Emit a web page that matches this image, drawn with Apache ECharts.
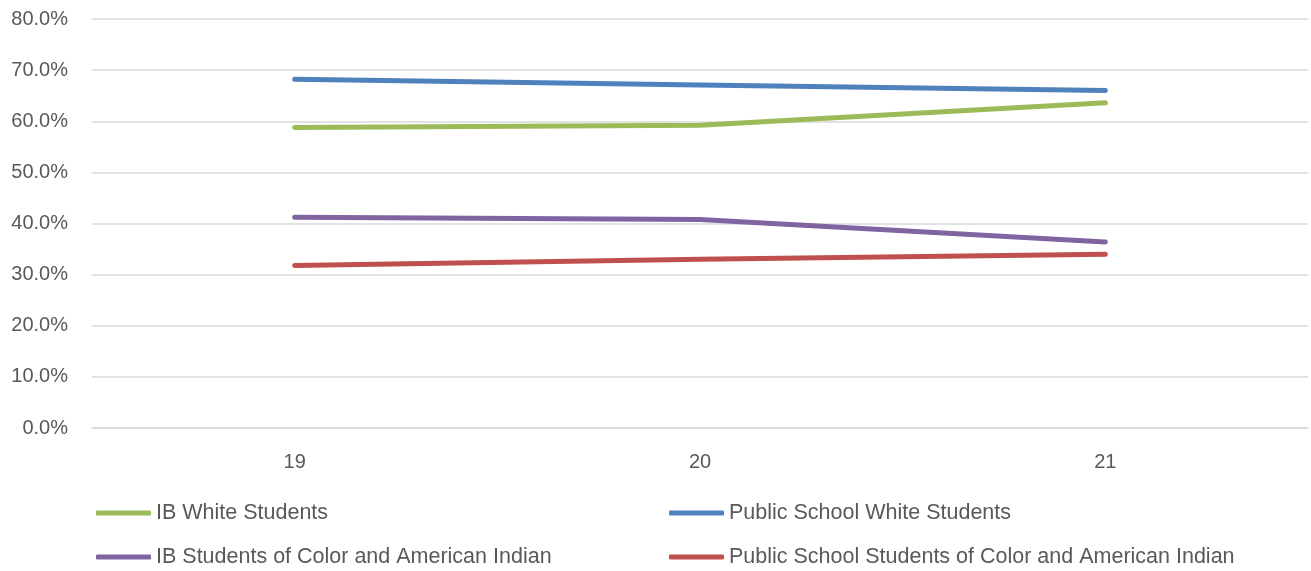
<!DOCTYPE html>
<html>
<head>
<meta charset="utf-8">
<script src="https://cdn.jsdelivr.net/npm/echarts@6/dist/echarts.min.js"></script>
<style>
html,body{margin:0;padding:0;background:#fff;}
#chart{width:1311px;height:571px;}
</style>
</head>
<body>
<div id="chart"></div>
<script>
const categories = ['19', '20', '21'];
const ibWhite = [58.8, 59.2, 63.6];
const publicWhite = [68.2, 67.1, 66.0];
const ibColor = [41.2, 40.8, 36.4];
const publicColor = [31.8, 33.0, 34.0];
const seriesNames = ['IB White Students', 'Public School White Students', 'IB Students of Color and American Indian', 'Public School Students of Color and American Indian'];
const colors = ['#9BBB59', '#4F81BD', '#8064A2', '#C0504D'];

const font = 'Liberation Sans';
const chart = echarts.init(document.getElementById('chart'));
const mkLegend = (name, left, top) => ({
  data: [name], left: left, top: top, itemWidth: 55, itemHeight: 5, itemGap: 0, padding: 0,
  icon: 'roundRect', textStyle: {fontFamily: font, fontSize: 21.5, lineHeight: 24, color: '#595959'},
  selectedMode: false
});
chart.setOption({
  animation: false,
  color: colors,
  grid: {left: 92, right: 3, top: 19, bottom: 143, containLabel: false},
  xAxis: {
    type: 'category', data: categories, boundaryGap: true,
    axisLine: {show: true, lineStyle: {color: '#D9D9D9', width: 1.5}},
    axisTick: {show: false},
    axisLabel: {fontFamily: font, fontSize: 20, color: '#595959', margin: 24}
  },
  yAxis: {
    type: 'value', min: 0, max: 80, interval: 10,
    axisLine: {show: false}, axisTick: {show: false},
    splitLine: {lineStyle: {color: '#D9D9D9', width: 1.5}},
    axisLabel: {fontFamily: font, fontSize: 20, color: '#595959', margin: 24,
      formatter: v => v.toFixed(1) + '%'}
  },
  legend: [
    mkLegend(seriesNames[0], 96, 501),
    mkLegend(seriesNames[1], 669, 501),
    mkLegend(seriesNames[2], 96, 545),
    mkLegend(seriesNames[3], 669, 545)
  ],
  series: [ibWhite, publicWhite, ibColor, publicColor].map((d, i) => ({
    name: seriesNames[i], type: 'line', data: d, symbol: 'none',
    lineStyle: {width: 5, color: colors[i], cap: 'round', join: 'round'},
    itemStyle: {color: colors[i]}
  }))
});
</script>
</body>
</html>
